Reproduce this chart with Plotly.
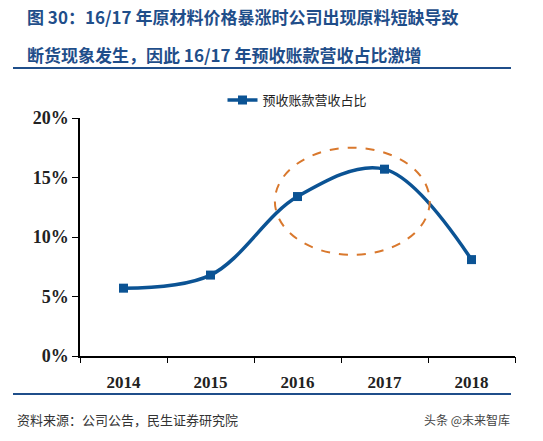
import plotly.graph_objects as go

years = ["2014", "2015", "2016", "2017", "2018"]
ratio = [5.7, 6.8, 13.4, 15.7, 8.1]
series_name = "预收账款营收占比"
y_ticks = [0, 5, 10, 15, 20]
y_labels = ["0%", "5%", "10%", "15%", "20%"]

W, H = 543, 441
OFF = 8
L, R, T, B = 80 - OFF, 28 + OFF, 118 - OFF, 85 + OFF
def py(p):  # reference pixel y -> paper
    return 1 - (p - OFF - T) / (H - T - B)
def px(p):
    return (p - OFF - L) / (W - L - R)

blue = "#0b5394"
fig = go.Figure()
xs = list(range(len(years)))
fig.add_trace(go.Scatter(x=xs, y=ratio, mode="lines+markers", name=series_name,
                         line=dict(color=blue, width=3.5, shape="spline", smoothing=1),
                         marker=dict(symbol="square", size=9, color=blue)))
fig.add_trace(go.Scatter(x=[None], y=[None], xaxis="x2", showlegend=False))

fig.add_shape(type="circle", xref="x", yref="y", x0=1.74, x1=3.52, y0=8.5, y1=17.5,
              line=dict(color="#d9782d", width=2, dash="dash"))

serif = "Liberation Serif"
fig.update_layout(
    width=W, height=H, margin=dict(l=L, r=R, t=T, b=B),
    plot_bgcolor="white", paper_bgcolor="white",
    showlegend=True,
    legend=dict(x=0.5, xanchor="center", y=py(100), yanchor="middle", orientation="h",
                font=dict(family="Noto Sans CJK SC", size=13, color="#222")),
    xaxis=dict(range=[-0.5, 4.5], tickvals=xs, ticktext=[f"<b>{y}</b>" for y in years], ticks="",
               showgrid=False, showline=True, linecolor="black", linewidth=1.5, zeroline=False,
               tickfont=dict(family=serif, size=17, color="#222"), ticklabelstandoff=10),
    xaxis2=dict(range=[-0.5, 4.5], overlaying="x", anchor="y", tickvals=[-0.5, 0.5, 1.5, 2.5, 3.5, 4.5],
                ticktext=[""] * 6, ticks="outside", ticklen=6, tickcolor="black", showgrid=False,
                showline=False, zeroline=False),
    yaxis=dict(range=[0, 20], tickvals=y_ticks, ticktext=[f"<b>{t}</b>" for t in y_labels],
               ticks="outside", ticklen=6, tickcolor="black", showgrid=False, showline=True,
               linecolor="black", linewidth=1.5, zeroline=False,
               tickfont=dict(family=serif, size=18, color="#222")),
    font=dict(family="Noto Sans CJK SC"),
)
title_font = dict(family="Noto Sans CJK SC", size=17, color="#1f4e8a")
fig.add_annotation(xref="paper", yref="paper", x=px(25), y=py(17), xanchor="left", yanchor="middle",
                   text="<b>图 30：16/17 年原材料价格暴涨时公司出现原料短缺导致</b>", showarrow=False, font=title_font)
fig.add_annotation(xref="paper", yref="paper", x=px(25), y=py(54), xanchor="left", yanchor="middle",
                   text="<b>断货现象发生，因此 16/17 年预收账款营收占比激增</b>", showarrow=False, font=title_font)
fig.add_shape(type="line", xref="paper", yref="paper", x0=px(13), x1=px(511), y0=py(68), y1=py(68),
              line=dict(color="#1f4e8a", width=2))
fig.add_shape(type="line", xref="paper", yref="paper", x0=px(13), x1=px(511), y0=py(394), y1=py(394),
              line=dict(color="#1f4e8a", width=2))
fig.add_annotation(xref="paper", yref="paper", x=px(15), y=py(419), xanchor="left", yanchor="middle",
                   text="资料来源：公司公告，民生证券研究院", showarrow=False,
                   font=dict(family="Noto Sans CJK SC", size=13, color="#333"))
fig.add_annotation(xref="paper", yref="paper", x=px(512), y=py(419), xanchor="right", yanchor="middle",
                   text="头条 @未来智库", showarrow=False,
                   font=dict(family="Noto Sans CJK SC", size=12, color="#444"))
fig.write_html("out.html")
